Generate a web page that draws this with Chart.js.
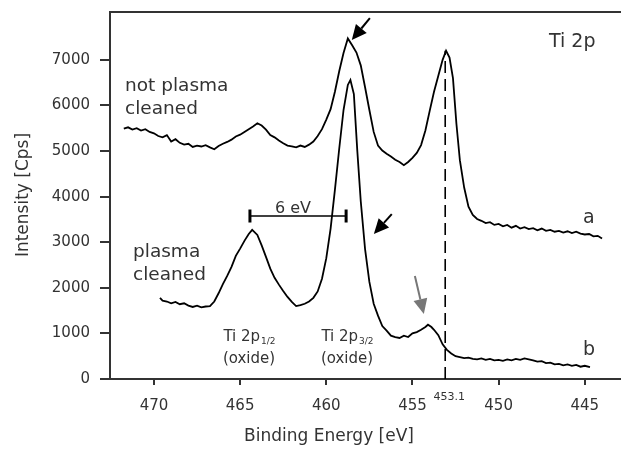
<!DOCTYPE html>
<html>
<head>
<meta charset="utf-8">
<script src="https://cdn.jsdelivr.net/npm/chart.js@4.4.1/dist/chart.umd.min.js"></script>
<style>
  body { margin: 0; background: #fff; }
  canvas { display: block; }
</style>
</head>
<body>
<canvas id="xps" width="621" height="451"></canvas>
<script>
// Binding energies (eV) and intensities (Cps)
const energyA = [
  471.75, 471.5, 471.25, 471.0, 470.75, 470.5, 470.25, 470.0, 469.75, 469.5,
  469.25, 469.0, 468.75, 468.5, 468.25, 468.0, 467.75, 467.5, 467.25, 467.0,
  466.75, 466.5, 466.25, 466.0, 465.75, 465.5, 465.25, 465.0, 464.75, 464.5,
  464.25, 464.0, 463.75, 463.5, 463.25, 463.0, 462.75, 462.5, 462.25, 462.0,
  461.75, 461.5, 461.25, 461.0, 460.75, 460.5, 460.25, 460.0, 459.75, 459.5,
  459.25, 459.0, 458.75, 458.5, 458.25, 458.0, 457.75, 457.5, 457.25, 457.0,
  456.75, 456.5, 456.25, 456.0, 455.75, 455.5, 455.25, 455.0, 454.75, 454.5,
  454.25, 454.0, 453.75, 453.5, 453.25, 453.05, 452.85, 452.65, 452.45, 452.25,
  452.0, 451.75, 451.5, 451.25, 451.0, 450.75, 450.5, 450.25, 450.0, 449.75,
  449.5, 449.25, 449.0, 448.75, 448.5, 448.25, 448.0, 447.75, 447.5, 447.25,
  447.0, 446.75, 446.5, 446.25, 446.0, 445.75, 445.5, 445.25, 445.0, 444.75,
  444.5, 444.25, 444.0
];
const intensityA = [
  5490, 5520, 5470, 5500, 5450, 5480, 5420, 5390, 5330, 5300,
  5350, 5210, 5260, 5180, 5140, 5160, 5090, 5120, 5100, 5130,
  5080, 5040, 5110, 5160, 5200, 5250, 5320, 5360, 5420, 5480,
  5540, 5610, 5560, 5470, 5350, 5300, 5230, 5170, 5120, 5100,
  5080, 5120, 5090, 5140, 5210, 5330, 5480, 5690, 5920, 6300,
  6750, 7150, 7470, 7320, 7160, 6880, 6400, 5900, 5420, 5120,
  5010, 4940, 4880, 4810, 4760, 4690, 4760, 4850, 4960, 5130,
  5450, 5880, 6300, 6650, 7000, 7200, 7050, 6600, 5600, 4800,
  4200, 3780, 3600, 3510, 3470, 3420, 3440, 3380, 3400, 3350,
  3380, 3320, 3360, 3300, 3330, 3290, 3310, 3260, 3300, 3250,
  3270, 3230, 3250, 3210, 3240, 3200, 3230, 3190, 3170, 3180,
  3130, 3140, 3080
];

const energyB = [
  469.65, 469.5, 469.25, 469.0, 468.75, 468.5, 468.25, 468.0, 467.75, 467.5,
  467.25, 467.0, 466.75, 466.5, 466.25, 466.0, 465.75, 465.5, 465.25, 465.0,
  464.75, 464.5, 464.3, 464.0, 463.75, 463.5, 463.25, 463.0, 462.75, 462.5,
  462.25, 462.0, 461.75, 461.5, 461.25, 461.0, 460.75, 460.5, 460.25, 460.0,
  459.75, 459.5, 459.25, 459.0, 458.75, 458.6, 458.4, 458.2, 458.0, 457.75,
  457.5, 457.25, 457.0, 456.75, 456.5, 456.25, 456.0, 455.75, 455.5, 455.25,
  455.0, 454.75, 454.5, 454.25, 454.1, 453.9, 453.75, 453.5, 453.25, 453.0,
  452.75, 452.5, 452.25, 452.0, 451.75, 451.5, 451.25, 451.0, 450.75, 450.5,
  450.25, 450.0, 449.75, 449.5, 449.25, 449.0, 448.75, 448.5, 448.25, 448.0,
  447.75, 447.5, 447.25, 447.0, 446.75, 446.5, 446.25, 446.0, 445.75, 445.5,
  445.25, 445.0, 444.7
];
const intensityB = [
  1780, 1720, 1700, 1660, 1690, 1640, 1660, 1610, 1580, 1610,
  1570, 1590, 1600, 1700, 1880, 2080, 2260, 2460, 2700, 2860,
  3030, 3180, 3270, 3160, 2930, 2680, 2420, 2220, 2070, 1930,
  1800, 1690, 1600, 1620, 1650, 1700, 1780, 1920, 2200, 2650,
  3300, 4150, 5050, 5900, 6450, 6560, 6250, 5000, 3900, 2850,
  2130, 1650, 1390, 1160, 1060, 950, 920, 900, 950, 920,
  1000, 1030, 1080, 1140, 1190, 1140, 1080, 960, 760, 640,
  560, 500, 480, 460, 470, 440, 430, 450, 420, 440,
  410, 420, 400, 430, 410, 440, 420, 450, 430, 410,
  380, 390, 350, 360, 320, 330, 300, 320, 290, 310,
  270, 290, 260
];

const xTicks = [470, 465, 460, 455, 450, 445];
const yTicks = [0, 1000, 2000, 3000, 4000, 5000, 6000, 7000];
const metalLine = 453.1;
const metalPeakTop = 7200;
const splitting = [464.43, 458.85];
const splittingLevel = 3575;

// arrows: [tailX, tailY, tipX, tipY, colour]
const arrows = [
  [457.47, 7917, 458.52, 7434, '#000'],
  [456.2, 3618, 457.24, 3180, '#000'],
  [454.86, 2259, 454.34, 1425, '#777']
];

const FONT = '"DejaVu Sans", sans-serif';
const TEXT = '#333';

function toPoints(xs, ys) {
  return xs.map((x, i) => ({ x: x, y: ys[i] }));
}

const overlay = {
  id: 'overlay',
  afterDatasetsDraw(chart) {
    const ctx = chart.ctx;
    const xs = chart.scales.x, ys = chart.scales.y;
    const area = chart.chartArea;
    ctx.save();

    // top frame line
    ctx.strokeStyle = '#333';
    ctx.lineWidth = 2;
    ctx.beginPath();
    ctx.moveTo(area.left - 1, area.top);
    ctx.lineTo(area.right, area.top);
    ctx.stroke();

    // arrows
    arrows.forEach(a => {
      const x1 = xs.getPixelForValue(a[0]), y1 = ys.getPixelForValue(a[1]);
      const x2 = xs.getPixelForValue(a[2]), y2 = ys.getPixelForValue(a[3]);
      const ang = Math.atan2(y2 - y1, x2 - x1);
      const head = 15, half = 7;
      const bx = x2 - head * Math.cos(ang), by = y2 - head * Math.sin(ang);
      ctx.strokeStyle = a[4];
      ctx.fillStyle = a[4];
      ctx.lineWidth = 2;
      ctx.beginPath();
      ctx.moveTo(x1, y1);
      ctx.lineTo(bx, by);
      ctx.stroke();
      ctx.beginPath();
      ctx.moveTo(x2, y2);
      ctx.lineTo(bx + half * Math.sin(ang), by - half * Math.cos(ang));
      ctx.lineTo(bx - half * Math.sin(ang), by + half * Math.cos(ang));
      ctx.closePath();
      ctx.fill();
    });

    ctx.fillStyle = TEXT;
    ctx.textBaseline = 'alphabetic';
    ctx.textAlign = 'left';
    ctx.font = '18.5px ' + FONT;
    ctx.fillText('not plasma', 125, 91);
    ctx.fillText('cleaned', 125, 114);
    ctx.fillText('plasma', 133, 257);
    ctx.fillText('cleaned', 133, 280);
    ctx.font = '19px ' + FONT;
    ctx.fillText('Ti 2p', 549, 47);
    ctx.fillText('a', 583, 223);
    ctx.fillText('b', 583, 355);

    ctx.font = '16px ' + FONT;
    ctx.textAlign = 'center';
    ctx.fillText('6 eV', 293, 213);

    // peak labels with subscripts
    function peakLabel(cx, sub) {
      ctx.font = '15px ' + FONT;
      const main = 'Ti 2p';
      const wMain = ctx.measureText(main).width;
      ctx.font = '9px ' + FONT;
      const wSub = ctx.measureText(sub).width;
      const left = cx - (wMain + wSub) / 2;
      ctx.textAlign = 'left';
      ctx.font = '15px ' + FONT;
      ctx.fillText(main, left, 341);
      ctx.font = '9px ' + FONT;
      ctx.fillText(sub, left + wMain + 1, 344);
      ctx.font = '15px ' + FONT;
      ctx.textAlign = 'center';
      ctx.fillText('(oxide)', cx, 363);
    }
    peakLabel(249, '1/2');
    peakLabel(347, '3/2');

    // 453.1 marker label
    ctx.font = '11px ' + FONT;
    ctx.textAlign = 'center';
    ctx.fillText('453.1', xs.getPixelForValue(metalLine) + 4, 400);

    // axis titles
    ctx.font = '17px ' + FONT;
    ctx.textBaseline = 'middle';
    ctx.fillText('Binding Energy [eV]', 329, 437);
    ctx.translate(24, 195);
    ctx.rotate(-Math.PI / 2);
    ctx.fillText('Intensity [Cps]', 0, 0);
    ctx.restore();
  }
};

const ctx = document.getElementById('xps').getContext('2d');
new Chart(ctx, {
  type: 'scatter',
  data: {
    datasets: [
      {
        label: 'a',
        data: toPoints(energyA, intensityA),
        showLine: true, borderColor: '#000', borderWidth: 1.8, pointRadius: 0
      },
      {
        label: 'b',
        data: toPoints(energyB, intensityB),
        showLine: true, borderColor: '#000', borderWidth: 1.8, pointRadius: 0
      },
      {
        label: 'metal',
        data: [{ x: metalLine, y: 0 }, { x: metalLine, y: metalPeakTop }],
        showLine: true, borderColor: '#000', borderWidth: 1.6, borderDash: [12, 6], pointRadius: 0
      },
      {
        label: 'splitting',
        data: [{ x: splitting[0], y: splittingLevel }, { x: splitting[1], y: splittingLevel }],
        showLine: true, borderColor: '#000', borderWidth: 1.6,
        pointStyle: 'line', rotation: 90, pointRadius: 6.5,
        pointBorderColor: '#000', pointBorderWidth: 3
      }
    ]
  },
  options: {
    responsive: false,
    animation: false,
    layout: { autoPadding: false, padding: { top: 12, right: 0, left: 0, bottom: 0 } },
    plugins: { legend: { display: false }, tooltip: { enabled: false } },
    scales: {
      x: {
        type: 'linear',
        reverse: true,
        min: 442.9,
        max: 472.55,
        afterBuildTicks: s => { s.ticks = xTicks.map(v => ({ value: v })); },
        afterFit: s => { s.height = 72; s.paddingLeft = 0; s.paddingRight = 0; },
        ticks: { color: TEXT, font: { family: FONT, size: 15 }, padding: 12, maxRotation: 0,
                 callback: v => String(v) },
        grid: { drawOnChartArea: false, drawTicks: true, tickLength: 6, color: '#333', lineWidth: 2 },
        border: { display: true, color: '#333', width: 2 }
      },
      y: {
        min: 0,
        max: 8050,
        afterBuildTicks: s => { s.ticks = yTicks.map(v => ({ value: v })); },
        afterFit: s => { s.width = 110; s.paddingTop = 0; s.paddingBottom = 0; },
        ticks: { color: TEXT, font: { family: FONT, size: 15 }, padding: 10,
                 callback: v => String(v) },
        grid: { drawOnChartArea: false, drawTicks: true, tickLength: 10, color: '#333', lineWidth: 2 },
        border: { display: true, color: '#333', width: 2 }
      }
    }
  },
  plugins: [overlay]
});
</script>
</body>
</html>
